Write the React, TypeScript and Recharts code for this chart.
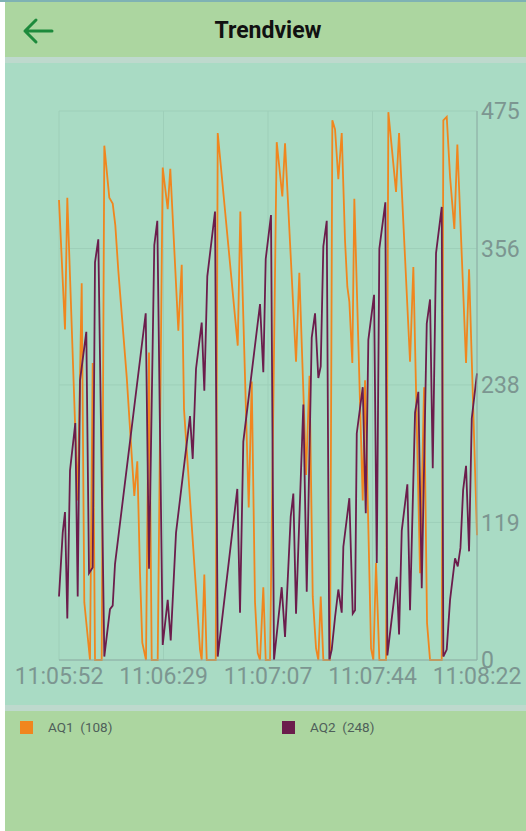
import React from "react";
import { LineChart, Line, XAxis, YAxis, CartesianGrid } from "recharts";

// seconds since 11:05:52
const aq1Time = [0, 2.15, 2.98, 6.71, 8.15, 9.08, 11.12, 12.09, 12.92, 15.32, 16.26, 18.05, 19.27, 20.21, 21.28, 24.3, 27.02, 28.1, 29.07, 29.89, 31.22, 32.3, 33.27, 35.42, 37.22, 39.01, 39.94, 42.82, 44.04, 44.86, 50.6, 51.21, 52.15, 53.01, 56.24, 56.96, 64.14, 65.07, 68.08, 69.16, 70.34, 71.31, 72.14, 73.32, 74.18, 75.73, 78.13, 80.14, 81.11, 85.06, 86.24, 87.93, 88.65, 89.9, 91.05, 92.24, 93.06, 93.92, 94.86, 97.26, 98.09, 99.06, 100.24, 101.46, 102.64, 103.47, 104.19, 105.26, 105.98, 109.0, 109.82, 111.98, 112.8, 113.77, 114.96, 117.36, 118.19, 120.95, 122.03, 125.97, 127.16, 129.56, 131.0, 132.07, 133.15, 137.35, 137.92, 139.14, 140.33, 141.87, 142.95, 146.07, 147.15, 150];
const aq1Value = [398, 286, 400, 138, 326, 50, 0, 257, 0, 0, 445, 400, 395, 376, 337, 245, 142, 172, 75, 15, 0, 266, 0, 0, 426, 390, 425, 285, 342, 217, 9, 0, 74, 0, 0, 456, 272, 388, 132, 241, 50, 6, 0, 63, 0, 0, 448, 401, 447, 258, 335, 215, 160, 246, 55, 10, 0, 55, 0, 0, 467, 459, 416, 456, 363, 323, 310, 257, 399, 138, 242, 10, 0, 84, 0, 0, 474, 405, 456, 258, 340, 75, 236, 32, 0, 0, 467, 470, 418, 373, 446, 257, 338, 108];

const aq2Time = [0, 1.33, 2.15, 2.98, 3.95, 5.85, 6.71, 7.54, 9.8, 10.77, 12.09, 12.92, 14.1, 16.26, 18.3, 19.27, 20.1, 31.12, 32.3, 34.2, 35.28, 37.22, 39.01, 40.09, 41.99, 47.01, 47.98, 49.17, 51.21, 52.15, 53.22, 55.99, 56.96, 63.99, 64.96, 66.14, 72.14, 73.32, 74.18, 76.08, 77.16, 79.92, 81.11, 83.15, 84.09, 85.06, 87.68, 88.9, 90.69, 91.88, 93.06, 93.92, 94.86, 96.08, 97.01, 97.87, 99.06, 100.24, 101.46, 102.04, 104.19, 105.41, 106.24, 106.85, 109.0, 110.08, 111.01, 113.06, 114.03, 114.96, 117.11, 117.83, 121.2, 122.03, 123.0, 125.01, 125.97, 127.77, 128.95, 130.17, 131.97, 133.15, 134.12, 135.3, 137.35, 137.92, 139.14, 140.33, 142.12, 143.09, 144.06, 145.02, 146.07, 147.15, 148.12, 150];
const aq2Value = [55, 110, 128, 36, 164, 205, 55, 242, 284, 75, 80, 344, 364, 3, 44, 47, 83, 300, 79, 359, 380, 13, 52, 17, 110, 211, 174, 252, 292, 233, 332, 388, 3, 148, 41, 189, 308, 249, 347, 385, 0, 63, 20, 124, 144, 40, 221, 59, 279, 300, 244, 254, 358, 380, 0, 9, 37, 61, 41, 98, 140, 40, 43, 196, 236, 127, 277, 316, 84, 356, 396, 4, 72, 22, 112, 152, 43, 214, 232, 62, 291, 312, 166, 352, 392, 3, 9, 52, 88, 81, 97, 147, 168, 94, 209, 248];

const xTicks = [0, 37.5, 75, 112.5, 150];
const xTickLabels = ["11:05:52", "11:06:29", "11:07:07", "11:07:44", "11:08:22"];
const yTicks = [0, 119, 238, 356, 475];

const seriesNames = ["AQ1", "AQ2"];
const seriesColors = ["#f0861e", "#6b1d4c"];
const lastValues = [108, 248];

const aq1Data = aq1Time.map((t, i) => ({ t, v: aq1Value[i] }));
const aq2Data = aq2Time.map((t, i) => ({ t, v: aq2Value[i] }));

const axisColor = "#7c9691";

export default function App() {
  return (
    <div
      style={{
        position: "absolute",
        left: 0,
        top: 0,
        width: 526,
        height: 831,
        background: "#ffffff",
        overflow: "hidden",
        fontFamily: "Roboto, sans-serif",
      }}
    >
      <div style={{ position: "absolute", left: 0, top: 0, width: 526, height: 2, background: "#7fb2b4" }} />
      {/* header */}
      <div style={{ position: "absolute", left: 5, top: 2, width: 521, height: 55, background: "#acd6a0" }}>
        <svg width={60} height={55} style={{ position: "absolute", left: 0, top: 0 }}>
          <path d="M20 29 L47 29 M20 29 L31 18 M20 29 L31 40" stroke="#1d8a3c" strokeWidth={3} fill="none" strokeLinecap="round" strokeLinejoin="round" />
        </svg>
        <div
          style={{
            position: "absolute",
            left: 0,
            width: 526,
            top: 14,
            textAlign: "center",
            fontSize: 23,
            fontWeight: 700,
            color: "#111",
            lineHeight: "30px",
          }}
        >
          Trendview
        </div>
      </div>
      {/* separator */}
      <div style={{ position: "absolute", left: 5, top: 57, width: 521, height: 6, background: "#bed9cd" }} />
      {/* chart area */}
      <div style={{ position: "absolute", left: 5, top: 63, width: 521, height: 642, background: "#a9dbc4" }} />
      <div style={{ position: "absolute", left: 5, top: 705, width: 521, height: 6, background: "#bed9cd" }} />
      {/* legend area */}
      <div style={{ position: "absolute", left: 5, top: 711, width: 521, height: 120, background: "#acd6a0" }}>
        {seriesNames.map((name, i) => (
          <div key={name} style={{ position: "absolute", left: i === 0 ? 15 : 277, top: 9, height: 14, display: "flex", alignItems: "center" }}>
            <div style={{ width: 13, height: 13, background: seriesColors[i] }} />
            <div style={{ marginLeft: 15, fontSize: 13.5, color: "#4f5f5a", whiteSpace: "pre" }}>
              {name + "  (" + lastValues[i] + ")"}
            </div>
          </div>
        ))}
      </div>
      <div style={{ position: "absolute", left: 0, top: 0 }}>
        <LineChart width={526} height={706} margin={{ top: 111, right: 0, bottom: 16, left: 59 }}>
          <CartesianGrid stroke="#9ecfb9" strokeWidth={1} />
          <XAxis
            dataKey="t"
            type="number"
            domain={[0, 150]}
            ticks={xTicks}
            tickFormatter={(v: number) => xTickLabels[xTicks.indexOf(v)] ?? ""}
            height={30}
            tickSize={0}
            tickMargin={8}
            stroke="#8eaca5"
            tick={{ fill: axisColor, fontSize: 23, fontFamily: "Roboto, sans-serif" }}
            interval={0}
          />
          <YAxis
            orientation="right"
            type="number"
            domain={[0, 475]}
            ticks={yTicks}
            width={49}
            tickSize={0}
            tickMargin={4}
            stroke="#8eaca5"
            tick={{ fill: axisColor, fontSize: 23, fontFamily: "Roboto, sans-serif", textAnchor: "start" }}
            interval={0}
          />
          <Line data={aq1Data} dataKey="v" stroke={seriesColors[0]} strokeWidth={1.8} dot={false} isAnimationActive={false} type="linear" />
          <Line data={aq2Data} dataKey="v" stroke={seriesColors[1]} strokeWidth={1.8} dot={false} isAnimationActive={false} type="linear" />
        </LineChart>
      </div>
    </div>
  );
}
